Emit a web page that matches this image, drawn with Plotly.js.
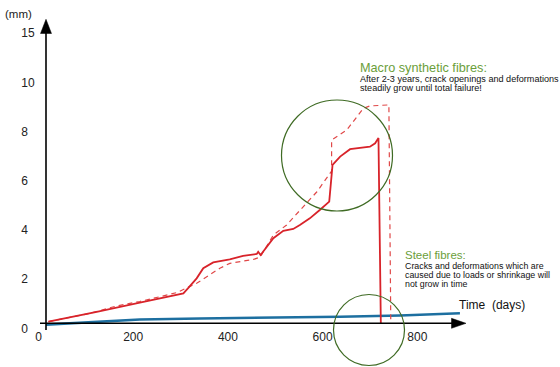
<!DOCTYPE html>
<html>
<head>
<meta charset="utf-8">
<script src="https://cdn.plot.ly/plotly-3.0.1.min.js"></script>
<style>html,body{margin:0;padding:0;background:#fff;}#chart{width:560px;height:367px;}</style>
</head>
<body>
<div id="chart"></div>
<script>
// ---- data (days, mm) ----
const macroDays = [21, 95, 123, 214, 306, 316, 334, 348, 369, 404, 432, 461, 464, 469, 496, 517, 538, 552, 573, 594, 614, 621, 637, 658, 700, 711, 718, 723];
const macroMm   = [0.27, 0.54, 0.67, 1.04, 1.42, 1.63, 2.03, 2.44, 2.68, 2.80, 2.94, 3.02, 3.11, 2.98, 3.66, 3.96, 4.04, 4.20, 4.47, 4.81, 5.15, 6.64, 6.98, 7.28, 7.38, 7.52, 7.74, 0.2];

const macroTrendDays = [21, 109, 165, 214, 292, 334, 383, 404, 454, 468, 496, 524, 559, 588, 619, 619, 651, 686, 700, 740, 744];
const macroTrendMm   = [0.27, 0.61, 0.91, 1.09, 1.45, 1.83, 2.44, 2.64, 2.80, 2.89, 3.79, 4.20, 4.94, 5.55, 6.39, 7.65, 8.06, 8.94, 9.04, 9.08, 0.22];

const steelDays = [16, 130, 214, 341, 468, 637, 764, 806, 890];
const steelMm   = [0.15, 0.28, 0.36, 0.40, 0.42, 0.47, 0.52, 0.56, 0.61];

const xTickVals = [0, 200, 400, 600, 800];
const xTickText = ['0', '200', '400', '600', '800'];
const yTickVals = [0, 2, 4, 6, 8, 10, 12];
const yTickText = ['0', '2', '4', '6', '8', '10', '15'];

// ---- page geometry helpers (decorations only) ----
const W = 560, H = 367;
const px = v => v / W;
const py = v => 1 - v / H;
const FONT = 'Liberation Sans, Arial, Helvetica, sans-serif';

// single-digit tick labels sit left-aligned in the reference: pad them on the right
const yTickShown = yTickText.map(t => t.length === 1 ? t + '\u00a0\u00a0' : t);

const traces = [
  {x: steelDays, y: steelMm, mode: 'lines', line: {color: '#1d6fa0', width: 2.6}, hoverinfo: 'skip'},
  {x: macroTrendDays, y: macroTrendMm, mode: 'lines', line: {color: '#e04848', width: 1.2, dash: '5px,4px'}, hoverinfo: 'skip'},
  {x: macroDays, y: macroMm, mode: 'lines', line: {color: '#d8232a', width: 1.8}, hoverinfo: 'skip'}
];

function txt(t, x, y, size, color) {
  return {text: t, xref: 'paper', yref: 'paper', x: px(x), y: py(y), xanchor: 'left', yanchor: 'middle',
          showarrow: false, align: 'left', borderpad: 0, font: {family: FONT, size: size, color: color}};
}

const green = '#6b9e3a';
const annotations = [
  txt('(mm)', 4, 14, 11.5, '#222'),
  txt('Time  (days)', 458, 304.5, 12, '#111'),
  txt('Macro synthetic fibres:', 359, 67.6, 12.7, green),
  txt('After 2-3 years, crack openings and deformations', 359, 78.6, 9.1, '#111'),
  txt('steadily grow until total failure!', 359, 88.4, 9.1, '#111'),
  txt('Steel fibres:', 404, 255.2, 11.5, green),
  txt('Cracks and deformations which are', 404, 265.5, 8.85, '#111'),
  txt('caused due to loads or shrinkage will', 404, 274.6, 8.85, '#111'),
  txt('not grow in time', 404, 283.8, 8.85, '#111')
];

function path(pts) {
  return 'M ' + pts.map(p => px(p[0]) + ',' + py(p[1])).join(' L ') + ' Z';
}

const circleColor = '#3f6b24';
const shapes = [
  // axes lines
  {type: 'line', xref: 'paper', yref: 'paper', x0: px(46), x1: px(46), y0: py(330), y1: py(32), line: {color: '#000', width: 1.6}},
  {type: 'line', xref: 'paper', yref: 'paper', x0: px(40), x1: px(453), y0: py(323.3), y1: py(323.3), line: {color: '#000', width: 1.6}},
  // arrow heads
  {type: 'path', xref: 'paper', yref: 'paper', path: path([[46, 19.3], [40.5, 33.5], [51.5, 33.5]]), fillcolor: '#000', line: {color: '#000', width: 0.5}},
  {type: 'path', xref: 'paper', yref: 'paper', path: path([[466, 323.3], [451.5, 318.3], [451.5, 328.3]]), fillcolor: '#000', line: {color: '#000', width: 0.5}},
  // highlight circles
  {type: 'circle', xref: 'paper', yref: 'paper', x0: px(281.5), x1: px(392.5), y0: py(211), y1: py(100), line: {color: circleColor, width: 1.2}},
  {type: 'circle', xref: 'paper', yref: 'paper', x0: px(333.5), x1: px(404.5), y0: py(365.5), y1: py(294.5), line: {color: circleColor, width: 1.2}}
];

const layout = {
  width: W, height: H,
  margin: {l: 0, r: 0, t: 0, b: 0, pad: 0},
  paper_bgcolor: '#fff', plot_bgcolor: '#fff',
  showlegend: false,
  xaxis: {
    range: [-38.5 / 0.4735, (W - 38.5) / 0.4735],
    anchor: 'free', position: 1 - 323.3 / H,
    showgrid: false, zeroline: false, showline: false,
    tickmode: 'array', tickvals: xTickVals, ticktext: xTickText,
    ticks: 'outside', ticklen: 2, tickcolor: 'rgba(0,0,0,0)',
    tickfont: {family: FONT, size: 12, color: '#222'},
    fixedrange: true
  },
  yaxis: {
    range: [(328.3 - H) / 24.6, 328.3 / 24.6],
    anchor: 'free', position: 46 / W,
    showgrid: false, zeroline: false, showline: false,
    tickmode: 'array', tickvals: yTickVals, ticktext: yTickShown,
    ticks: 'outside', ticklen: 9, tickcolor: 'rgba(0,0,0,0)',
    tickfont: {family: FONT, size: 12, color: '#222'},
    fixedrange: true
  },
  shapes: shapes,
  annotations: annotations
};

Plotly.newPlot('chart', traces, layout, {displayModeBar: false, staticPlot: true});
</script>
</body>
</html>
